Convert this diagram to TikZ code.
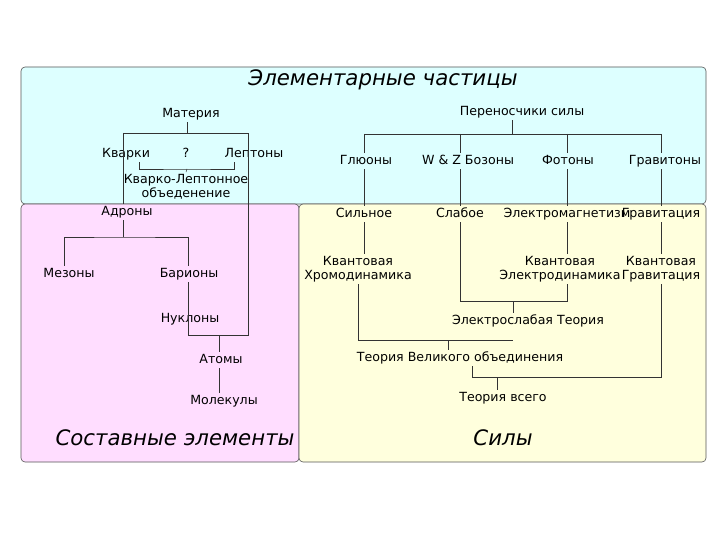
\documentclass[tikz,border=0pt]{standalone}
\usepackage{fontspec}
\setmainfont{DejaVu Sans}
\usetikzlibrary{positioning}
\definecolor{partcyan}{HTML}{DDFFFF}
\definecolor{comppink}{HTML}{FFDDFF}
\definecolor{forceyellow}{HTML}{FFFFDD}
\definecolor{framegrey}{HTML}{555555}

\begin{document}
\begin{tikzpicture}[x=1pt, y=-1pt,
  every node/.style={font=\fontsize{12.6}{14.5}\selectfont, inner sep=2pt, align=center},
  lbl/.style={text height=9.3pt, text depth=2.8pt},
  title/.style={font=\fontsize{21.3}{24}\selectfont\itshape},
  panel/.style={draw=framegrey, line width=0.6pt, rounded corners=4pt},
  link/.style={draw=black!80, line width=0.5pt}]
\useasboundingbox (0,0) rectangle (720,540);
% panels
\path[panel, fill=partcyan] (21,67) rectangle (706,204);
\path[panel, fill=comppink] (21,204) rectangle (299,462);
\path[panel, fill=forceyellow] (299,204) rectangle (706,462);
\node[title] (elem) at (383,80) {Элементарные частицы};
\node[title] (sost) at (175,438) {Составные элементы};
\node[title] (sily) at (503,438) {Силы};

% matter side
\node[lbl] (mat) at (191,114) {Материя};
\node[lbl] (kv) at (126,154) {Кварки};
\node[lbl] (que) at (186,154) {?};
\node[lbl] (lep) at (254,154) {Лептоны};
\node (klo) at (186,187) {Кварко-Лептонное\\объеденение};
\node[lbl] (adr) at (127,212) {Адроны};
\node[lbl] (mez) at (69,274) {Мезоны};
\node[lbl] (bar) at (189,274) {Барионы};
\node[lbl] (nuk) at (190,319) {Нуклоны};
\node[lbl] (atom) at (221,360) {Атомы};
\node[lbl] (mol) at (224,401) {Молекулы};
\coordinate (jm) at (187,133);
\coordinate (jq) at (187,169);
\coordinate (ja) at (123,237);
\coordinate (jn) at (219,335);

\draw[link] (jm |- mat.south) -- (jm);
\draw[link] (123,133) -- (248,133);
\draw[link] (123,133) -- (123,0 |- adr.north);
\draw[link] (kv.south -| 139,0) |- (jq) -| (lep.south -| 234,0);
\draw[link] (jq) -- (klo.north);
\draw[link] (ja |- adr.south) -- (ja);
\draw[link] (mez.north -| 64,0) |- (ja) -| (188,0 |- bar.north);
\draw[link] (188,0 |- bar.south) -- (188,0 |- jn) -- (248,0 |- jn) -- (248,133);
\draw[link] (jn) -- (jn |- atom.north);
\draw[link] (jn |- atom.south) -- (jn |- mol.north);

% forces side
\node[lbl] (per) at (522,112) {Переносчики силы};
\node[lbl] (glu) at (366,161) {Глюоны};
\node[lbl] (wz) at (468,161) {W \& Z Бозоны};
\node[lbl] (fot) at (568,161) {Фотоны};
\node[lbl] (grv) at (665,161) {Гравитоны};
\node[lbl] (sil) at (364,214) {Сильное};
\node[lbl] (sla) at (460,214) {Слабое};
\node[lbl] (em) at (567,214) {Электромагнетизм};
\node[lbl] (gra) at (661,214) {Гравитация};
\node (qcd) at (358,269) {Квантовая\\Хромодинамика};
\node (qed) at (560,269) {Квантовая\\Электродинамика};
\node (qg) at (661,269) {Квантовая\\Гравитация};
\node[lbl] (ew) at (528,321) {Электрослабая Теория};
\node[lbl] (gut) at (460,358) {Теория Великого объединения};
\node[lbl] (toe) at (503,398) {Теория всего};
\coordinate (jp) at (512,134);
\coordinate (je) at (513,301);
\coordinate (jg) at (448,340);
\coordinate (jt) at (497,377);

\draw[link] (jp |- per.south) -- (jp);
\draw[link] (sil |- jp) -- (gra |- jp);
\foreach \p/\f in {glu/sil, wz/sla, fot/em, grv/gra} {
  \draw[link] (\f |- jp) -- (\f |- \p.north);
  \draw[link] (\f |- \p.south) -- (\f.north);
}
\draw[link] (sil.south) -- (sil.south |- qcd.north);
\draw[link] (gra.south) -- (gra.south |- qg.north);
\draw[link] (em.south) -- (em.south |- qed.north);
\draw[link] (sla.south) |- (em |- je) -- (em |- qed.south);
\draw[link] (je) -- (je |- ew.north);
\draw[link] (qcd.south) |- (je |- jg);
\draw[link] (jg) -- (jg |- gut.north);
\draw[link] (gut.south -| 472,0) |- (gra |- jt) -- (gra |- qg.south);
\draw[link] (jt) -- (jt |- toe.north);
\end{tikzpicture}
\end{document}
